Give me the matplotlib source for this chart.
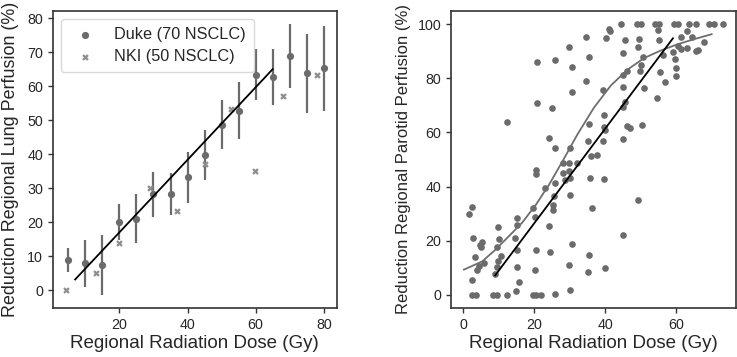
import matplotlib
matplotlib.use("Agg")
import matplotlib.pyplot as plt
import numpy as np

plt.rcParams['font.family'] = ['Liberation Sans', 'DejaVu Sans']

# ---------------- Left panel data ----------------
duke_dose = [5, 10, 15, 20, 25, 30, 35, 40, 45, 50, 55, 60, 65, 70, 75, 80]
duke_red = [9.0, 7.9, 7.5, 20.0, 21.1, 28.2, 28.4, 33.2, 39.8, 48.6, 52.8, 63.4, 62.7, 68.8, 63.8, 65.3]
duke_err = [3.5, 6.8, 8.8, 5.3, 7.1, 6.5, 6.2, 7.6, 7.3, 7.2, 8.4, 7.6, 8.3, 9.4, 11.6, 12.5]

nki_dose = [4.2, 13.1, 20.0, 29.0, 37.0, 45.0, 52.8, 59.8, 67.9, 77.9]
nki_red = [0.0, 5.0, 14.0, 30.2, 23.4, 37.0, 53.2, 35.2, 57.2, 63.2]

lung_fit_x = [7.0, 65.0]
lung_fit_y = [3.2, 65.0]

# ---------------- Right panel data ----------------
parotid_dose = [
    44.3, 49.0, 50.1, 53.9, 55.1, 59.2, 60.3, 63.6, 65.6, 69.2, 70.6, 73.1,
    41.1, 41.3, 54.8, 62.9, 34.5, 40.3, 45.4, 49.5, 55.0, 61.2, 64.4, 67.8,
    29.7, 49.2, 60.3, 61.2, 62.9, 65.6, 66.0, 58.9, 45.0, 50.7, 56.1, 59.5,
    20.8, 25.7, 35.5, 30.6, 49.9, 59.8, 46.0, 45.0, 49.7, 55.3, 59.9, 34.5,
    56.8, 44.9, 50.9, 39.2, 30.6, 54.6, 20.8, 25.1, 45.4, 45.0, 39.7, 12.2,
    35.5, 39.6, 39.8, 46.0, 46.9, 50.3, 24.2, 25.7, 30.0, 35.1, 39.4, 44.9,
    35.9, 37.5, 28.0, 29.7, 31.9,
    20.5, 20.5, 28.1, 29.7, 30.0, 28.5, 25.9, 22.9, 35.7, 39.6, 30.0, 25.5,
    25.3, 25.3, 19.7, 20.3, 49.2, 36.1, 1.5, 2.4, 15.0, 15.2, 9.9, 24.2,
    44.9, 2.8, 10.1, 14.5, 5.2, 4.7, 5.1, 9.4, 15.2, 20.5, 24.4, 30.6,
    35.5, 3.2, 10.7, 9.9, 9.6, 5.8, 4.5, 3.9, 9.0, 15.0, 20.1, 29.7,
    35.1, 40.0, 2.4, 15.6, 14.8, 29.9, 25.7, 2.6, 3.5, 8.4, 9.6, 12.4,
    19.7, 20.6, 22.0,
]
parotid_red = [
    100, 100, 100, 100, 100, 100, 100, 100, 100, 100, 100, 100,
    98.4, 97.4, 97.9, 97.4, 95.3, 94.8, 94.1, 94.6, 94.1, 95.3, 95.3, 93.6,
    91.5, 91.4, 92.0, 91.0, 91.1, 90.1, 90.5, 89.9, 89.5, 88.0, 88.8, 87.3,
    86.2, 86.9, 88.0, 84.2, 85.1, 84.0, 82.7, 81.2, 82.7, 82.3, 80.9, 79.0,
    78.6, 76.8, 76.6, 75.6, 74.8, 72.6, 70.7, 69.1, 71.4, 69.5, 66.4, 63.8,
    63.3, 61.9, 60.9, 62.3, 61.6, 62.7, 57.9, 54.1, 54.4, 56.7, 56.7, 57.4,
    51.2, 51.5, 48.8, 48.8, 48.8,
    46.0, 44.7, 45.1, 45.7, 43.0, 42.3, 41.4, 39.3, 43.0, 42.7, 37.0, 36.4,
    33.1, 31.2, 32.1, 28.6, 35.2, 32.1, 29.9, 32.5, 28.4, 25.9, 24.9, 25.3,
    22.2, 21.1, 20.7, 21.1, 19.6, 18.4, 17.7, 17.7, 16.7, 16.7, 15.9, 18.9,
    14.7, 14.0, 14.4, 12.6, 10.3, 11.7, 10.5, 9.0, 7.8, 10.1, 9.0, 11.0,
    8.3, 9.9, 5.3, 4.6, 1.4, 1.9, 0.4, 0.0, 0.0, 0.0, 0.0, 0.0,
    0.0, 0.0, 0.0,
]

parotid_lin_x = [9.0, 59.0]
parotid_lin_y = [7.2, 94.8]

parotid_curve_x = [0.2, 5.3, 9.1, 12.8, 16.6, 20.4, 24.1, 28.0, 32.1, 36.8, 41.5, 46.2, 50.9, 55.6, 60.3, 65.0, 69.9]
parotid_curve_y = [9.3, 12.3, 16.7, 21.6, 26.7, 33.2, 40.6, 49.5, 59.2, 69.2, 77.3, 83.2, 87.5, 90.3, 92.6, 94.5, 96.3]

# ---------------- Figure ----------------
fig = plt.figure(figsize=(7.37, 3.57), dpi=100)
ax1 = fig.add_axes([52.7 / 737, 1 - 308.3 / 357, (336.7 - 52.7) / 737, (308.3 - 10.7) / 357])
ax2 = fig.add_axes([451 / 737, 1 - 308.3 / 357, (736 - 451) / 737, (308.3 - 10.7) / 357])

spine_col = '#333333'
text_col = '#262626'
dot_col = '#6b6b6b'
nki_col = '#8e8e8e'

for ax in (ax1, ax2):
    for s in ax.spines.values():
        s.set_color(spine_col)
        s.set_linewidth(1.2)
    ax.tick_params(direction='out', length=3.5, width=1.0, color=spine_col,
                   labelsize=10.3, labelcolor=text_col, pad=3.5)

# Left panel
ax1.errorbar(duke_dose, duke_red, yerr=duke_err, fmt='none', ecolor=dot_col,
             elinewidth=1.6, capsize=0, zorder=2)
ax1.scatter(duke_dose, duke_red, s=27, color=dot_col, marker='o', linewidths=0,
            label='Duke (70 NSCLC)', zorder=3)
ax1.scatter(nki_dose, nki_red, s=22, color=nki_col, marker='X', linewidths=0,
            label='NKI (50 NSCLC)', zorder=3)
ax1.plot(lung_fit_x, lung_fit_y, color='black', lw=1.3, zorder=4)
ax1.set_yticks([0, 10, 20, 30, 40, 50, 60, 70, 80])
ax1.set_xticks([20, 40, 60, 80])
ax1.set_xlabel('Regional Radiation Dose (Gy)', fontsize=13.5, color=text_col, labelpad=2)
ax1.set_ylabel('Reduction Regional Lung Perfusion (%)', fontsize=12.9, color=text_col, labelpad=6)
leg = ax1.legend(loc='upper left', fontsize=11.7, frameon=True, fancybox=True,
                 edgecolor='#d0d0d0', markerscale=1.0, handletextpad=0.8,
                 borderpad=0.5, labelspacing=0.45)
for t in leg.get_texts():
    t.set_color(text_col)

# Right panel
ax2.scatter(parotid_dose, parotid_red, s=23, color=dot_col, marker='o', linewidths=0, zorder=2)
ax2.plot(parotid_lin_x, parotid_lin_y, color='black', lw=1.3, zorder=4)
ax2.plot(parotid_curve_x, parotid_curve_y, color='#6e6e6e', lw=1.3, zorder=3)
ax2.set_yticks([0, 20, 40, 60, 80, 100])
ax2.set_xticks([0, 20, 40, 60])
ax2.set_xlabel('Regional Radiation Dose (Gy)', fontsize=13.5, color=text_col, labelpad=2)
ax2.set_ylabel('Reduction Regional Parotid Perfusion (%)', fontsize=12, color=text_col, labelpad=5)

fig.savefig('out.png', dpi=100)
